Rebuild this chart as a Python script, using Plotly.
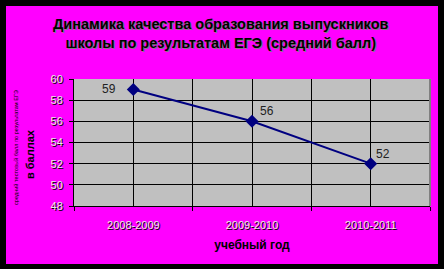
import plotly.graph_objects as go

categories = ["2008-2009", "2009-2010", "2010-2011"]
scores = [59, 56, 52]
y_ticks = [48, 50, 52, 54, 56, 58, 60]
title_lines = ["Динамика качества образования выпускников",
               "школы по результатам ЕГЭ (средний балл)"]
x_title = "учебный год"
y_title = "в баллах"
y_small = "средний тестовый балл по результатам ЕГЭ"

W, H = 444, 269
L, R, T, B = 74, 14, 79, 63
pw, ph = W - L - R, H - T - B

xs = list(range(len(categories)))
bounds = [i - 0.5 for i in range(len(categories) + 1)]
label_shift = [(-24, 1), (15, 10), (12, 10)]

fig = go.Figure()
fig.add_trace(go.Scatter(
    x=xs, y=scores, mode="lines+markers",
    line=dict(color="#000080", width=2),
    marker=dict(symbol="diamond", size=10, color="#000080"),
    cliponaxis=False, showlegend=False, hoverinfo="skip",
))

tickfont = dict(family="Liberation Sans, Arial", size=11, color="#e8e8e8",
                shadow="1px 1px 0px #000000")

fig.update_xaxes(
    range=[bounds[0], bounds[-1]], tickvals=xs, ticktext=categories,
    showgrid=True, gridcolor="#000000", gridwidth=1,
    ticks="", showline=True, linecolor="#000000", linewidth=1,
    tickfont=tickfont, zeroline=False, fixedrange=True, ticklabelstandoff=9,
    minor=dict(tickvals=bounds, showgrid=True, gridcolor="#000000", gridwidth=1,
               ticks="outside", ticklen=4, tickcolor="#000000"),
    title=dict(text=x_title, standoff=10,
               font=dict(family="Liberation Sans, Arial", size=12, color="#000000",
                         weight="bold")),
)
fig.update_yaxes(
    range=[y_ticks[0], y_ticks[-1]], tickvals=y_ticks,
    showgrid=True, gridcolor="#000000", gridwidth=1,
    ticks="outside", ticklen=4, tickcolor="#000000",
    showline=True, linecolor="#000000", linewidth=1,
    tickfont=tickfont, zeroline=False, fixedrange=True, ticklabelstandoff=4,
)

shapes = [
    dict(type="line", xref="paper", yref="paper", x0=1, x1=1, y0=0, y1=1,
         line=dict(color="#808080", width=2)),
]
def px_rect(x0, y0, x1, y1):
    return dict(type="rect", xref="paper", yref="paper",
                x0=(x0 - L) / pw, x1=(x1 - L) / pw,
                y0=(H - B - y1) / ph, y1=(H - B - y0) / ph,
                line=dict(width=0), fillcolor="#000000", layer="above")
shapes += [px_rect(0, 0, W, 6), px_rect(0, 0, 6, H),
           px_rect(438, 0, W, H), px_rect(0, 264, W, H)]

annotations = [
    dict(text="<b>" + title_lines[0] + "</b><br><b>" + title_lines[1] + "</b>",
         xref="paper", yref="paper", x=(221 - L) / pw, y=(H - B - 34) / ph,
         xanchor="center", yanchor="middle", showarrow=False,
         font=dict(family="Liberation Sans, Arial", size=14.5, color="#000000",
                   shadow="1px 1px 0px #808080")),
    dict(text="<b>" + y_title + "</b>", xref="paper", yref="paper",
         x=(30 - L) / pw, y=(H - B - 154) / ph, textangle=-90,
         xanchor="center", yanchor="middle", showarrow=False,
         font=dict(family="Liberation Sans, Arial", size=11, color="#000000")),
    dict(text=y_small, xref="paper", yref="paper",
         x=(16 - L) / pw, y=(H - B - 148) / ph, textangle=-90,
         xanchor="center", yanchor="middle", showarrow=False,
         font=dict(family="Liberation Sans, Arial", size=5.6, color="#000000")),
]
for xv, yv, (dx, dy) in zip(xs, scores, label_shift):
    annotations.append(dict(
        x=xv, y=yv, xref="x", yref="y", text=str(yv), showarrow=False,
        xshift=dx, yshift=dy, xanchor="center", yanchor="middle",
        font=dict(family="Liberation Sans, Arial", size=12, color="#222222")))

fig.update_layout(
    width=W, height=H, margin=dict(l=L, r=R, t=T, b=B),
    paper_bgcolor="#ff00ff", plot_bgcolor="#c0c0c0",
    shapes=shapes, annotations=annotations, showlegend=False,
)

fig.write_html("out.html", config={"displayModeBar": False})
